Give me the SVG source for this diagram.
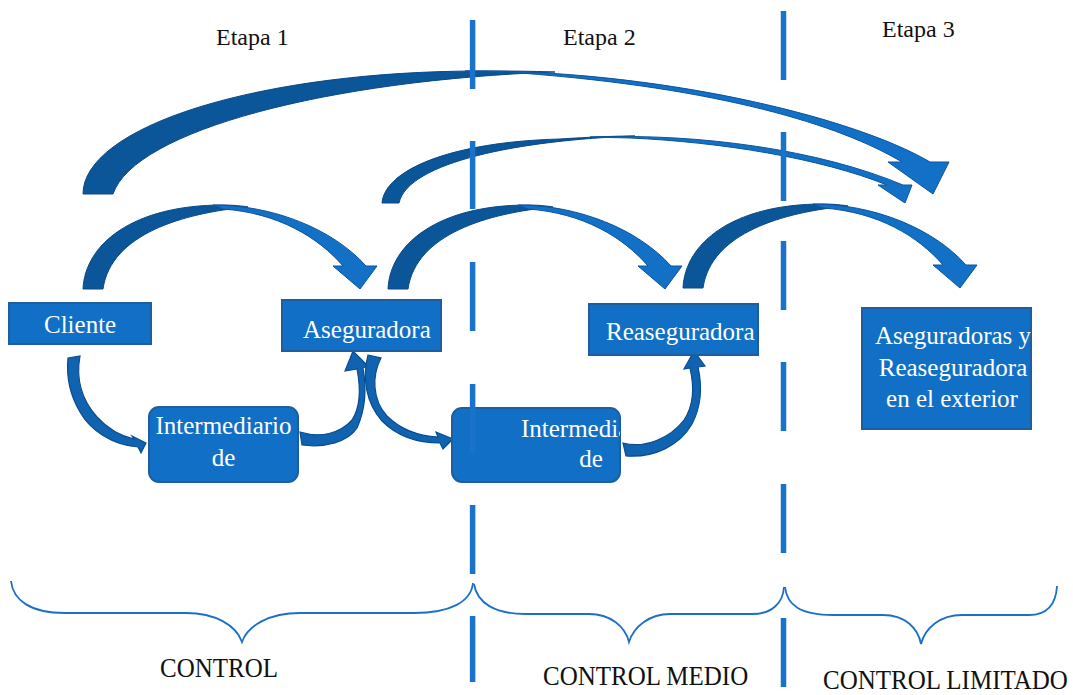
<svg xmlns="http://www.w3.org/2000/svg" width="1073" height="695" viewBox="0 0 1073 695">
  <style>
    .lbl { font-family: "Liberation Serif", "Times New Roman", serif; font-size: 24px; fill: #111; }
    .ctl { font-family: "Liberation Serif", "Times New Roman", serif; font-size: 25px; fill: #111; }
    .box { fill: #1170c6; stroke: #1f5e9e; stroke-width: 2; }
    .btxt { font-family: "Liberation Serif", "Times New Roman", serif; font-size: 25px; fill: #ffffff; }
    .dark { fill: #0b5599; stroke: #0a4a88; stroke-width: 1; }
    .light { fill: #1270c7; stroke: #0b5599; stroke-width: 1; }
    .small { fill: #1063b1; stroke: #0a4d8e; stroke-width: 1.2; }
    .dash { stroke: #1a72ca; stroke-width: 5.5; fill: none; }
    .brace { stroke: #1a6fc9; stroke-width: 1.8; fill: none; }
  </style>
  <defs>
    <!-- curved down arrow, base-left corner at the origin -->
    <g id="curveDown">
      <path class="dark" d="M 0,0 C 2,-45 50,-84 140,-84 C 150,-84 160,-83 165,-82 C 100,-76 28,-55 20,0 Z"/>
      <path class="light" d="M 130,-84 C 190,-84 250,-60 283,-23 L 294,-23 L 277,0 L 250,-23 L 260,-23 C 235,-52 195,-76 140,-80 Z"/>
    </g>
    <clipPath id="clipInt2"><rect x="452" y="408" width="168" height="74" rx="10"/></clipPath>
    <clipPath id="clipExt"><rect x="862" y="308" width="169" height="121"/></clipPath>
  </defs>

  <!-- stage titles -->
  <g id="titles">
    <text class="lbl" x="216" y="45">Etapa 1</text>
    <text class="lbl" x="563" y="45">Etapa 2</text>
    <text class="lbl" x="882" y="37">Etapa 3</text>
  </g>

  <!-- connectors -->
  <g id="connectors">
    <!-- long arrow: Cliente to exterior -->
    <path class="dark" d="M 83,194 A 397 123 0 0 1 480,71 C 505,71 530,71 555,72 C 330,80 135,130 113,194 Z"/>
    <path class="light" d="M 465,71 C 650,69 850,115 930,162 L 949,162 L 933,194 L 888,162 L 902,162 C 840,125 720,88 520,73 Z"/>
    <!-- long arrow: Aseguradora to exterior -->
    <path class="dark" d="M 382,203 C 385,170 450,142 560,139 C 590,137 615,136 635,136 C 520,140 408,162 399,203 Z"/>
    <path class="light" d="M 590,137 C 700,133 820,150 903,185 L 912,185 L 905,203 L 878,185 L 887,185 C 820,158 720,142 630,138 Z"/>
    <!-- short curved arrows between neighbours -->
    <use href="#curveDown" transform="translate(83,289)"/>
    <use href="#curveDown" transform="translate(388,289)"/>
    <use href="#curveDown" transform="translate(683,288)"/>
    <!-- lower curved arrows through the intermediaries -->
    <path class="small" d="M 68,358 L 80,356 C 76,378 80,398 97,417 C 108,429 120,436 134,439 L 132,436 L 146,443 L 141,453 L 138,447 C 112,445 90,430 80,412 C 70,395 66,378 68,358 Z"/>
    <path class="small" d="M 300,432 C 320,438 340,434 352,420 C 360,408 361,390 357,369 L 345,371 L 353,351 L 368,366 L 363,368 C 367,390 365,410 357,428 C 348,442 325,448 302,445 Z"/>
    <path class="small" d="M 368,355 L 381,358 C 372,375 372,400 387,416 C 400,429 418,436 438,437 L 436,432 L 453,439 L 443,449 L 440,443 C 415,443 395,434 382,421 C 366,403 362,378 368,355 Z"/>
    <path class="small" d="M 623,443 C 645,449 670,438 684,420 C 694,405 694,385 690,368 L 684,369 L 694,351 L 705,366 L 698,367 C 702,385 702,405 692,424 C 680,445 655,458 626,456 Z"/>
  </g>

  <!-- nodes -->
  <g id="cliente">
    <rect class="box" x="9" y="303" width="142" height="41"/>
    <text class="btxt" x="44" y="333">Cliente</text>
  </g>
  <g id="aseguradora">
    <rect class="box" x="282" y="300" width="159" height="51"/>
    <text class="btxt" x="303" y="338">Aseguradora</text>
  </g>
  <g id="reaseguradora">
    <rect class="box" x="589" y="304" width="169" height="51"/>
    <text class="btxt" x="606" y="340">Reaseguradora</text>
  </g>
  <g id="intermediario1">
    <rect class="box" x="149" y="407" width="149" height="75" rx="10"/>
    <text class="btxt" x="223.5" y="434" text-anchor="middle">Intermediario</text>
    <text class="btxt" x="223.5" y="466" text-anchor="middle">de</text>
  </g>
  <g id="intermediario2">
    <rect class="box" x="452" y="408" width="168" height="74" rx="10"/>
    <g clip-path="url(#clipInt2)">
      <text class="btxt" x="589" y="437" text-anchor="middle">Intermediario</text>
      <text class="btxt" x="591" y="467" text-anchor="middle">de</text>
    </g>
  </g>
  <g id="exterior">
    <rect class="box" x="862" y="308" width="169" height="121"/>
    <g clip-path="url(#clipExt)">
      <text class="btxt" x="953" y="344" text-anchor="middle">Aseguradoras y</text>
      <text class="btxt" x="953" y="376" text-anchor="middle">Reaseguradora</text>
      <text class="btxt" x="952" y="407" text-anchor="middle">en el exterior</text>
    </g>
  </g>

  <!-- stage dividers -->
  <g id="dividers">
    <path class="dash" d="M 472.6,20 V 89 M 472.6,141 V 209 M 472.6,262 V 331 M 472.6,384 V 453 M 472.6,505 V 574 M 472.6,616 V 682"/>
    <path class="dash" d="M 783.5,11 V 80 M 783.5,132 V 201 M 783.5,241 V 310 M 783.5,362 V 431 M 783.5,484 V 553 M 783.5,618 V 687"/>
  </g>

  <!-- braces and control levels -->
  <g id="braces">
    <path class="brace" d="M 11,581 C 13,600 30,613 65,613 L 186,613 C 215,613 236,625 242,642 C 248,625 270,613 300,613 L 414,613 C 450,613 471,602 473,583"/>
    <path class="brace" d="M 474,584 C 477,603 495,614 525,614 L 589,614 C 610,614 625,626 629,642 C 634,626 650,614 670,614 L 752,614 C 772,614 783,603 784,587"/>
    <path class="brace" d="M 785,587 C 787,605 800,615 833,615 L 883,615 C 905,615 918,628 921,644 C 925,628 940,615 962,615 L 1029,615 C 1048,615 1056,603 1057,586"/>
  </g>
  <g id="levels">
    <text class="ctl" transform="translate(160,677) scale(1,1.12)">CONTROL</text>
    <text class="ctl" transform="translate(543,685) scale(1,1.12)">CONTROL MEDIO</text>
    <text class="ctl" transform="translate(823,689) scale(1,1.12)">CONTROL LIMITADO</text>
  </g>
</svg>
